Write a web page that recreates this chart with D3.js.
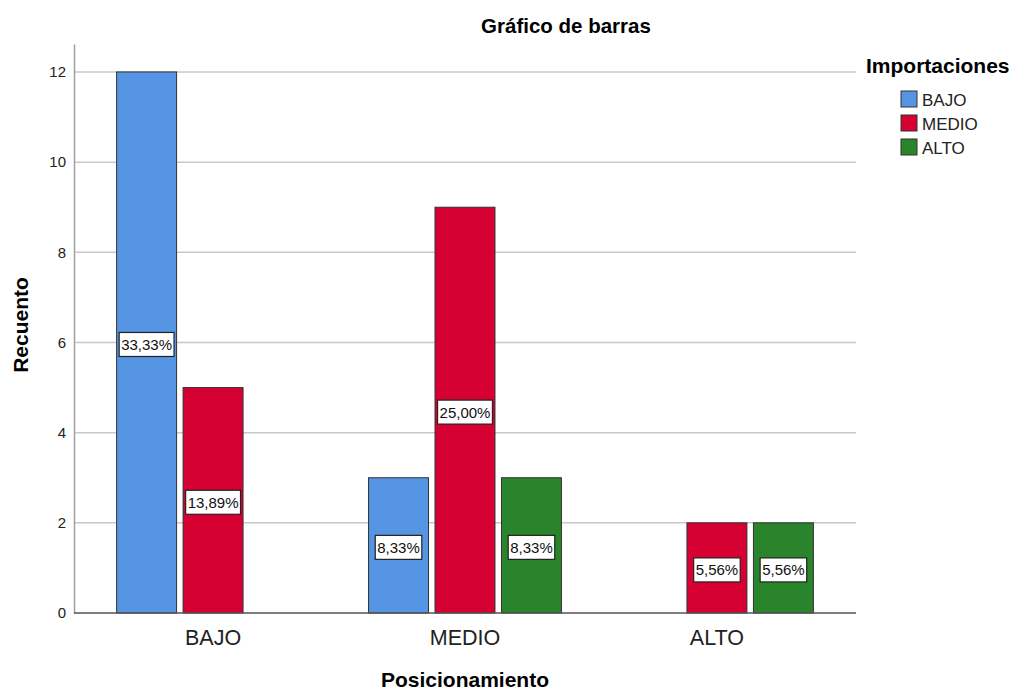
<!DOCTYPE html>
<html>
<head>
<meta charset="utf-8">
<script src="https://cdn.jsdelivr.net/npm/d3@7"></script>
<style>
  body { margin: 0; background: #fff; }
  text { font-family: Arial, "Liberation Sans", sans-serif; }
</style>
</head>
<body>
<svg id="chart" width="1017" height="693"></svg>
<script>
const categories = ["BAJO", "MEDIO", "ALTO"];
const seriesNames = ["BAJO", "MEDIO", "ALTO"];
const bajoCounts = [12, 3, 0];
const medioCounts = [5, 9, 2];
const altoCounts = [0, 3, 2];
const yTicks = [0, 2, 4, 6, 8, 10, 12];
const colors = ["#5595e3", "#d60032", "#2a842b"];

const counts = [bajoCounts, medioCounts, altoCounts];
const total = d3.sum(counts.flat());

const svg = d3.select("#chart");
const plotLeft = 74, plotRight = 856, plotTop = 44, plotBottom = 613;

const x0 = d3.scaleBand().domain(categories).range([plotLeft, plotRight]).paddingInner(0).paddingOuter(0.052);
const x1 = d3.scaleBand().domain(seriesNames).range([0, x0.bandwidth()]).paddingInner(0.098).paddingOuter(0.444);
const y = d3.scaleLinear().domain([0, 12.62]).range([plotBottom, plotTop]);

// grid
svg.append("g").selectAll("line")
  .data(yTicks.filter(d => d > 0))
  .enter().append("line")
  .attr("x1", plotLeft).attr("x2", plotRight)
  .attr("y1", d => y(d)).attr("y2", d => y(d))
  .attr("stroke", "#c8c8c8").attr("stroke-width", 1.5);

// y axis
const yAxis = svg.append("g")
  .attr("transform", "translate(" + plotLeft + ",0)")
  .call(d3.axisLeft(y).tickValues(yTicks).tickSize(0).tickPadding(8));
yAxis.select(".domain").attr("stroke", "#a0a0a0").attr("stroke-width", 1.5);
yAxis.selectAll("text").attr("font-size", 15).attr("fill", "#222")
  .style("font-family", "Arial, 'Liberation Sans', sans-serif");

// bars
const data = [];
categories.forEach((c, ci) => {
  seriesNames.forEach((s, si) => {
    data.push({ cat: c, ser: s, si: si, value: counts[si][ci] });
  });
});
const shown = data.filter(d => d.value > 0);

svg.append("g").selectAll("rect")
  .data(shown)
  .enter().append("rect")
  .attr("x", d => x0(d.cat) + x1(d.ser))
  .attr("y", d => y(d.value))
  .attr("width", x1.bandwidth())
  .attr("height", d => y(0) - y(d.value))
  .attr("fill", d => colors[d.si])
  .attr("stroke", "#333")
  .attr("stroke-width", 1);

// x axis line
svg.append("line")
  .attr("x1", plotLeft).attr("x2", plotRight)
  .attr("y1", plotBottom).attr("y2", plotBottom)
  .attr("stroke", "#555").attr("stroke-width", 1.5);

// x category labels
svg.append("g").selectAll("text")
  .data(categories)
  .enter().append("text")
  .attr("x", d => x0(d) + x0.bandwidth() / 2)
  .attr("y", 645)
  .attr("text-anchor", "middle")
  .attr("font-size", 21.5)
  .attr("fill", "#222")
  .text(d => d);

// percentage labels
const fmt = v => (v * 100).toFixed(2).replace(".", ",") + "%";
const labels = svg.append("g").selectAll("g")
  .data(shown)
  .enter().append("g")
  .attr("transform", d => "translate(" + (x0(d.cat) + x1(d.ser) + x1.bandwidth() / 2) + "," + (y(d.value / 2) + 2) + ")");
labels.append("text")
  .attr("text-anchor", "middle")
  .attr("dy", "0.36em")
  .attr("font-size", 15)
  .attr("fill", "#111")
  .text(d => fmt(d.value / total));
labels.each(function() {
  const g = d3.select(this);
  const bb = g.select("text").node().getBBox();
  g.insert("rect", "text")
    .attr("x", bb.x - 2).attr("y", -12)
    .attr("width", bb.width + 4).attr("height", 24)
    .attr("fill", "#fff").attr("stroke", "#222").attr("stroke-width", 1.2);
});

// title
svg.append("text")
  .attr("x", 566).attr("y", 33)
  .attr("text-anchor", "middle")
  .attr("font-size", 20.5).attr("font-weight", "bold")
  .text("Gráfico de barras");

// axis titles
svg.append("text")
  .attr("transform", "translate(28,325) rotate(-90)")
  .attr("text-anchor", "middle")
  .attr("font-size", 21).attr("font-weight", "bold")
  .text("Recuento");

svg.append("text")
  .attr("x", 465).attr("y", 687)
  .attr("text-anchor", "middle")
  .attr("font-size", 21).attr("font-weight", "bold")
  .text("Posicionamiento");

// legend
svg.append("text")
  .attr("x", 866).attr("y", 73)
  .attr("font-size", 21).attr("font-weight", "bold")
  .text("Importaciones");
const leg = svg.append("g").selectAll("g")
  .data(seriesNames)
  .enter().append("g")
  .attr("transform", (d, i) => "translate(901," + (91 + i * 24) + ")");
leg.append("rect")
  .attr("width", 16).attr("height", 16)
  .attr("fill", (d, i) => colors[i])
  .attr("stroke", "#333");
leg.append("text")
  .attr("x", 21).attr("y", 15)
  .attr("font-size", 17).attr("fill", "#222")
  .text(d => d);
</script>
</body>
</html>
